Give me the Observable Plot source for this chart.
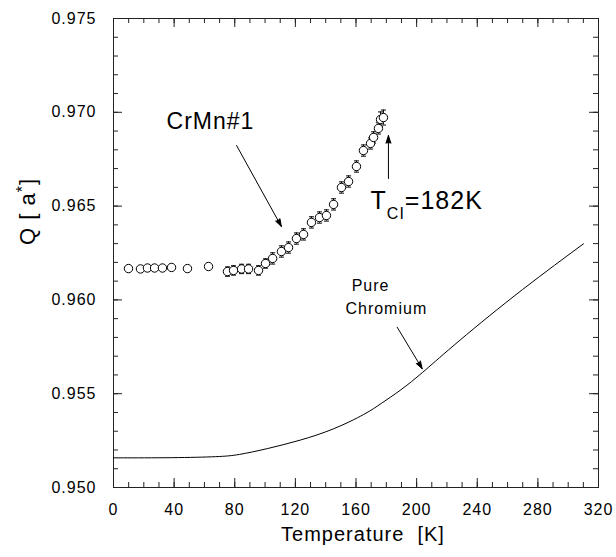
<!DOCTYPE html>
<html><head><meta charset="utf-8">
<script src="https://cdn.jsdelivr.net/npm/d3@7"></script>
<script src="https://cdn.jsdelivr.net/npm/@observablehq/plot@0.6"></script>
<style>
body{margin:0;background:#fff;}
svg text{font-family:"Liberation Sans",Arial,Helvetica,sans-serif;}
</style>
</head><body><div id="chart"></div>
<script>
// CrMn#1 measured points (Temperature K, Q in a*)
const crmnT = [9.9, 17.8, 22.4, 27.1, 32.3, 38.3, 48.8, 62.7, 75.2, 79.2, 84.5, 89.1, 95.7, 100.3, 105.0, 110.8, 115.5, 120.7, 125.4, 130.6, 135.9, 140.5, 145.2, 150.4, 155.1, 160.3, 164.9, 169.6, 171.6, 174.8, 176.2, 178.1];
const crmnQ = [0.96167, 0.96165, 0.96170, 0.96170, 0.96170, 0.96173, 0.96167, 0.96178, 0.96151, 0.96157, 0.96165, 0.96165, 0.96157, 0.96194, 0.96221, 0.96258, 0.96279, 0.96327, 0.96349, 0.96413, 0.96439, 0.96450, 0.96509, 0.96599, 0.96631, 0.96711, 0.96796, 0.96834, 0.96866, 0.96914, 0.96962, 0.96972];
const crmnErr = [0.00008, 0.00008, 0.00008, 0.00008, 0.00008, 0.00008, 0.00008, 0.00008, 0.00025, 0.00025, 0.00025, 0.00025, 0.00025, 0.00025, 0.0003, 0.0003, 0.0003, 0.0003, 0.0003, 0.0003, 0.0003, 0.0003, 0.0003, 0.0003, 0.0003, 0.0003, 0.0003, 0.0003, 0.0003, 0.0003, 0.0004, 0.0004];
// Pure chromium curve
const pureT = [0, 40, 70.6, 81.6, 101.4, 123.4, 145.2, 167.4, 176.2, 189.4, 203.7, 220.2, 263.9, 310.1];
const pureQ = [0.95158, 0.95158, 0.95164, 0.95172, 0.95206, 0.95251, 0.95308, 0.95396, 0.95446, 0.95517, 0.95610, 0.95730, 0.96023, 0.96299];
// ticks
const xTicks = [0, 40, 80, 120, 160, 200, 240, 280, 320];
const yTicks = [0.950, 0.955, 0.960, 0.965, 0.970, 0.975];
const xMinor = d3.range(0, 321, 10);
const yMinor = d3.range(0, 26).map(i => 0.950 + i * 0.001);

const crmn = crmnT.map((T, i) => ({T, Q: crmnQ[i], e: crmnErr[i]}));
const pure = pureT.map((T, i) => ({T, Q: pureQ[i]}));

const W = 616, H = 557, mL = 113, mR = 18, mT = 18, mB = 70;
const xDom = [0, 320], yDom = [0.950, 0.975];
// pixel tick lengths converted to data units
const kx = (xDom[1] - xDom[0]) / (W - mL - mR);
const ky = (yDom[1] - yDom[0]) / (H - mT - mB);
const ts = {stroke: "#222", strokeWidth: 1};
const tickRules = (vx, vy, len) => [
  Plot.ruleX(vx, {x: d => d, y1: yDom[0], y2: yDom[0] + len * ky, ...ts}),
  Plot.ruleX(vx, {x: d => d, y1: yDom[1], y2: yDom[1] - len * ky, ...ts}),
  Plot.ruleY(vy, {y: d => d, x1: xDom[0], x2: xDom[0] + len * kx, ...ts}),
  Plot.ruleY(vy, {y: d => d, x1: xDom[1], x2: xDom[1] - len * kx, ...ts})
];

const cap = {draw(ctx, s) { const w = Math.sqrt(s / Math.PI); ctx.moveTo(-w, 0); ctx.lineTo(w, 0); }};

const svg = Plot.plot({
  width: W, height: H,
  marginLeft: mL, marginRight: mR, marginTop: mT, marginBottom: mB,
  style: {background: "white", color: "black"},
  x: {domain: xDom},
  y: {domain: yDom},
  marks: [
    // tick labels
    Plot.axisX(xTicks, {anchor: "bottom", tickSize: 0, tickPadding: 16, fontSize: 16, tickFormat: d => String(d), label: null}),
    Plot.axisY(yTicks, {anchor: "left", tickSize: 0, tickPadding: 17, fontSize: 16, tickFormat: d3.format(".3f"), label: null}),
    // inward ticks on all four sides
    ...tickRules(xMinor, yMinor, 5),
    ...tickRules(xTicks, yTicks, 9),
    Plot.frame({stroke: "#222"}),
    // titles
    Plot.text(["Temperature  [K]"], {text: d => d, frameAnchor: "bottom", dx: 7, dy: 53, fontSize: 20}),
    Plot.text(["Q [ a*]"], {text: d => d, frameAnchor: "left", dx: -86, dy: -8, rotate: -90, fontSize: 22}),
    // pure chromium
    Plot.line(pure, {x: "T", y: "Q", curve: "basis", stroke: "black", strokeWidth: 1}),
    // CrMn#1 data with error bars
    Plot.ruleX(crmn, {x: "T", y1: d => d.Q - d.e, y2: d => d.Q + d.e, stroke: "black", strokeWidth: 1}),
    Plot.dot(crmn, {x: "T", y: d => d.Q + d.e, symbol: cap, r: 2.5, fill: "none", stroke: "black", strokeWidth: 1}),
    Plot.dot(crmn, {x: "T", y: d => d.Q - d.e, symbol: cap, r: 2.5, fill: "none", stroke: "black", strokeWidth: 1}),
    Plot.dot(crmn, {x: "T", y: "Q", r: 4.2, stroke: "black", fill: "white", strokeWidth: 1}),
    // annotations
    Plot.text(["CrMn#1"], {text: d => d, x: 64, y: 0.96948, fontSize: 23}),
    Plot.arrow([0], {x1: 81.2, y1: 0.96823, x2: 110.8, y2: 0.96391, stroke: "black", fill: "black", headLength: 12, headAngle: 36, strokeWidth: 1}),
    Plot.text(["TCI=182K"], {text: d => d, x: 169.6, y: 0.96525, textAnchor: "start", fontSize: 25}),
    Plot.arrow([0], {x1: 181.4, y1: 0.96647, x2: 181.4, y2: 0.96876, stroke: "black", fill: "black", headLength: 12, headAngle: 36, strokeWidth: 1}),
    Plot.text(["Pure"], {text: d => d, x: 169.6, y: 0.96077, fontSize: 16}),
    Plot.text(["Chromium"], {text: d => d, x: 180, y: 0.95954, fontSize: 16}),
    Plot.arrow([0], {x1: 187.2, y1: 0.95854, x2: 203.7, y2: 0.95633, stroke: "black", fill: "black", headLength: 12, headAngle: 36, strokeWidth: 1})
  ]
});

// styling & rich text
svg.querySelectorAll("text").forEach(t => { t.style.letterSpacing = "1px"; t.setAttribute("xml:space", "preserve"); t.style.whiteSpace = "pre"; });
svg.querySelectorAll("text").forEach(t => {
  const s = t.textContent;
  const NS = "http://www.w3.org/2000/svg";
  const span = (txt, attrs) => { const e = document.createElementNS(NS, "tspan"); e.textContent = txt; for (const k in attrs) e.setAttribute(k, attrs[k]); t.appendChild(e); };
  if (s === "TCI=182K") {
    t.textContent = "";
    span("T", {});
    span("CI", {dy: "10", "font-size": "16"});
    span("=182K", {dy: "-10"});
  } else if (s === "Q [ a*]") {
    t.textContent = "";
    span("Q [ a", {});
    span("*", {dy: "-7", "font-size": "16"});
    span("]", {dy: "7"});
  }
});
document.getElementById("chart").appendChild(svg);
</script>
</body></html>
